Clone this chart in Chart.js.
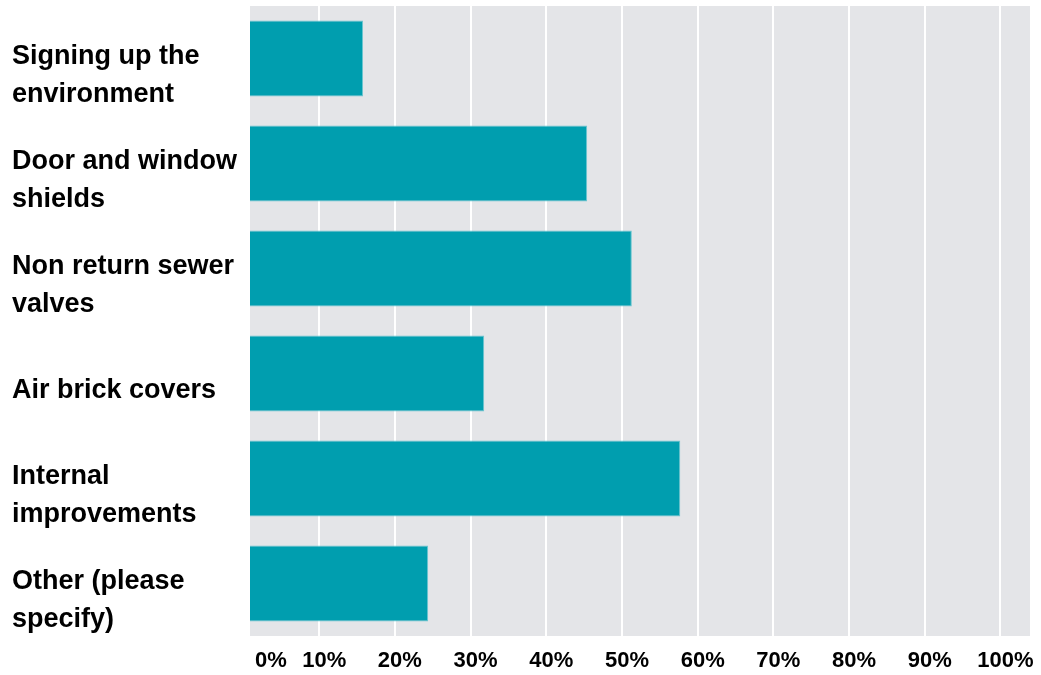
<!DOCTYPE html>
<html>
<head>
<meta charset="utf-8">
<script src="https://cdn.jsdelivr.net/npm/chart.js@4"></script>
<style>
  html, body { margin: 0; padding: 0; background: #fff; }
  #wrap { width: 1041px; height: 675px; }
</style>
</head>
<body>
<div id="wrap"><canvas id="chart"></canvas></div>
<script>
// categories (two-line labels as in the picture)
const categories = [
    ['Signing up the', 'environment'],
    ['Door and window', 'shields'],
    ['Non return sewer', 'valves'],
    ['Air brick covers'],
    ['Internal', 'improvements'],
    ['Other (please', 'specify)']
];
// share of answers, %
const shares = [15.8, 45.4, 51.3, 31.8, 57.7, 24.4];
// tick labels along the bottom
const tickValues = [10, 20, 30, 40, 50, 60, 70, 80, 90, 100];
const zeroLabel = '0%';

// the source axis starts a little right of 0 and runs a bit past 100
const xMin = 0.86;
const xMax = 103.9;

const FONT = "'Liberation Sans', Arial, Helvetica, sans-serif";

// grey plot background
const plotBg = {
    id: 'plotBg',
    beforeDraw(chart) {
        const { ctx, chartArea: a } = chart;
        ctx.save();
        ctx.fillStyle = '#e4e5e8';
        ctx.fillRect(a.left, a.top, a.right - a.left, a.bottom - a.top);
        ctx.restore();
    }
};

const ctx = document.getElementById('chart').getContext('2d');
new Chart(ctx, {
    type: 'bar',
    data: {
        labels: categories,
        datasets: [{
            data: shares,
            backgroundColor: '#009eaf',
            borderColor: '#6cc6d0',
            borderWidth: 1,
            borderSkipped: false,
            barPercentage: 0.8,
            categoryPercentage: 0.905,
            clip: 0
        }]
    },
    options: {
        indexAxis: 'y',
        responsive: true,
        maintainAspectRatio: false,
        animation: false,
        layout: { padding: { top: 6, left: 12, right: 11, bottom: 0 } },
        plugins: {
            legend: { display: false },
            tooltip: { enabled: false }
        },
        scales: {
            x: {
                type: 'linear',
                min: xMin,
                max: xMax,
                afterBuildTicks: axis => {
                    axis.ticks = [{ value: xMin }]
                        .concat(tickValues.map(v => ({ value: v })))
                        .concat([{ value: xMax }]);
                },
                afterFit: axis => {
                    axis.height = 39;
                    axis.paddingLeft = 0;
                    axis.paddingRight = 0;
                },
                border: { display: false },
                grid: {
                    drawTicks: false,
                    lineWidth: 2,
                    color: c => (c.tick && (c.tick.value === xMin || c.tick.value === xMax)) ? 'rgba(0,0,0,0)' : '#ffffff'
                },
                ticks: {
                    align: 'inner',
                    labelOffset: 5,
                    padding: 12,
                    color: '#000',
                    maxRotation: 0,
                    autoSkip: false,
                    font: { family: FONT, size: 22, weight: 'bold', lineHeight: 1.2 },
                    callback: v => v === xMin ? zeroLabel : (v === xMax ? '' : v + '%')
                }
            },
            y: {
                afterFit: axis => {
                    axis.width = 238;
                    axis.paddingTop = 0;
                    axis.paddingBottom = 0;
                },
                border: { display: false },
                grid: { display: false, drawTicks: false },
                ticks: {
                    crossAlign: 'far',
                    padding: 0,
                    labelOffset: 17,
                    color: '#000',
                    autoSkip: false,
                    font: { family: FONT, size: 27, weight: 'bold', lineHeight: 1.4 }
                }
            }
        }
    },
    plugins: [plotBg]
});
</script>
</body>
</html>
